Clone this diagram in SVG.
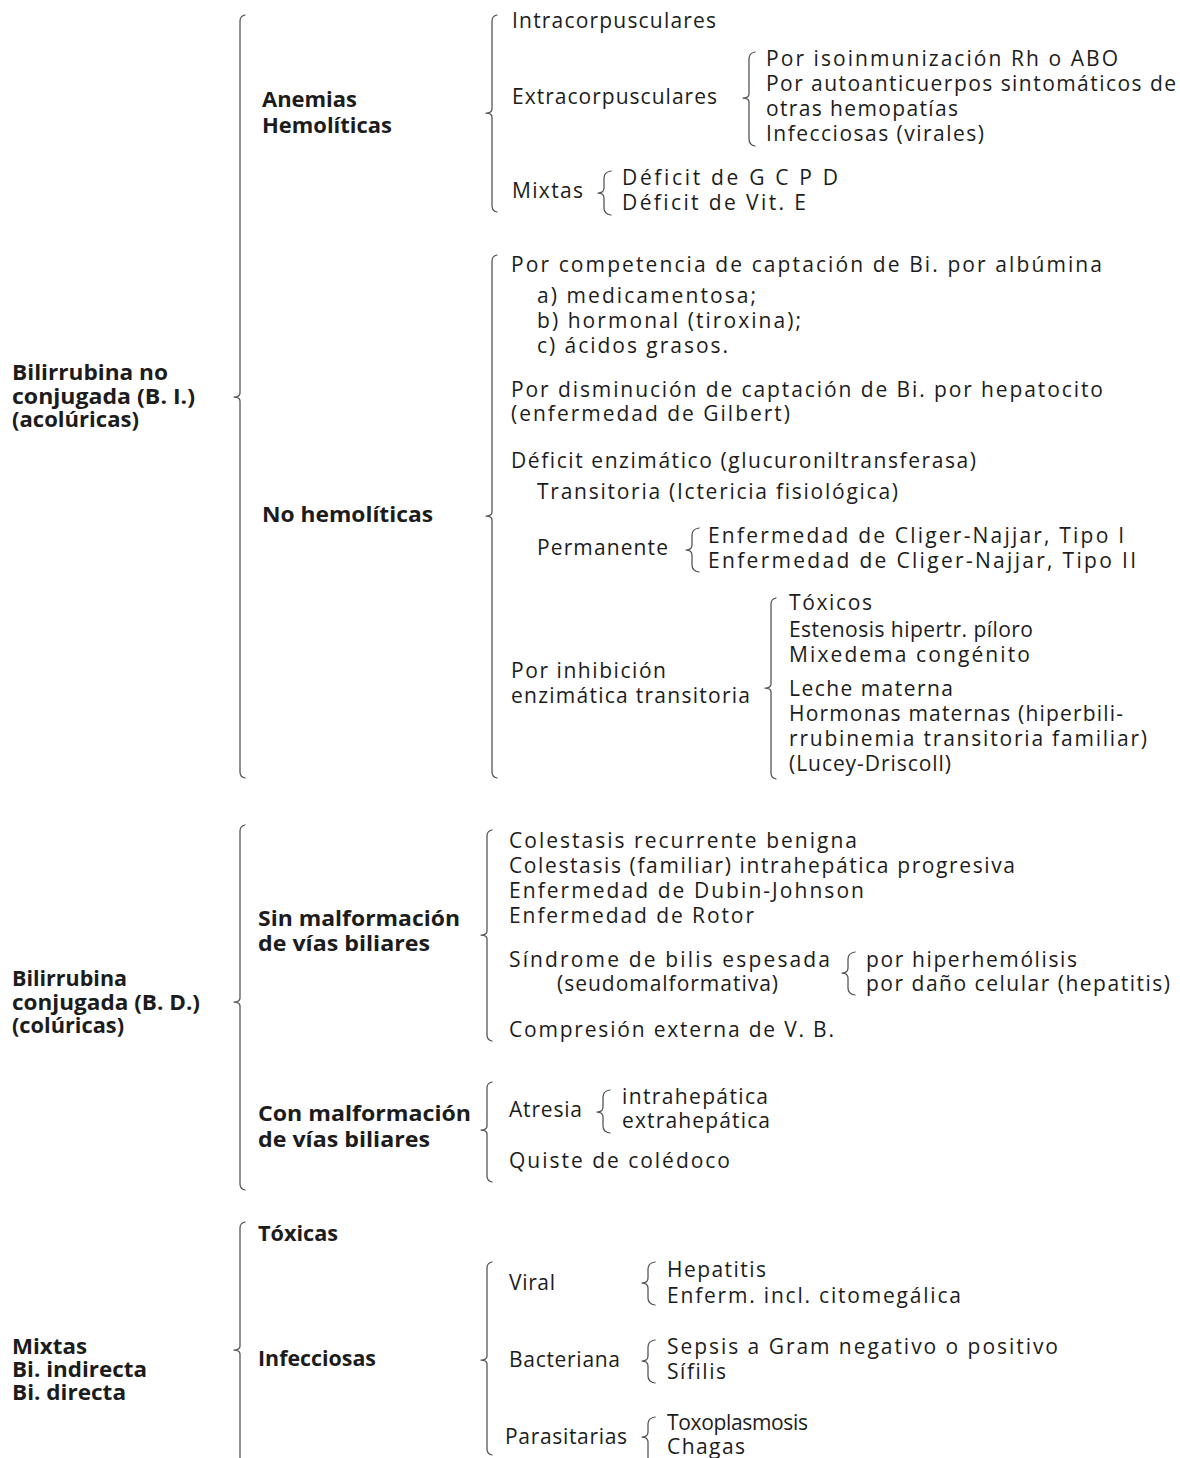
<svg xmlns="http://www.w3.org/2000/svg" width="1180" height="1458" viewBox="0 0 1180 1458">
<style>
.t{font-family:"Open Sans",Lato,"Noto Sans",sans-serif;font-size:21px;fill:#1c1c1c;font-variant-ligatures:none}
.b{font-weight:bold}
.br{fill:none;stroke:#505050;stroke-width:1.25;stroke-linecap:round;stroke-linejoin:round}
</style>
<rect width="1180" height="1458" fill="#ffffff"/>
<g id="connectors">
<path class="br" d="M245 15 Q240 16 240 21 V393 Q240 397 234 397 Q240 397 240 401 V772 Q240 777 245 778"/>
<path class="br" d="M497 15 Q492 16 492 21 V109 Q492 113 486 113 Q492 113 492 117 V206 Q492 211 497 212"/>
<path class="br" d="M755 52 Q749 53 749 59 V94 Q749 98 743 98 Q749 98 749 102 V139 Q749 145 755 146"/>
<path class="br" d="M611 171 Q604 172 604 178 V188 Q604 193 598 193 Q604 193 604 198 V208 Q604 214 611 215"/>
<path class="br" d="M497 255 Q492 256 492 261 V512 Q492 516 486 516 Q492 516 492 520 V772 Q492 777 497 778"/>
<path class="br" d="M699 528 Q692 529 692 535 V545 Q692 550 686 550 Q692 550 692 555 V565 Q692 571 699 572"/>
<path class="br" d="M776 598 Q771 599 771 604 V684 Q771 688 765 688 Q771 688 771 692 V773 Q771 778 776 779"/>
<path class="br" d="M245 825 Q240 826 240 831 V998 Q240 1002 234 1002 Q240 1002 240 1006 V1184 Q240 1189 245 1190"/>
<path class="br" d="M492 830 Q487 831 487 836 V931 Q487 935 481 935 Q487 935 487 939 V1035 Q487 1040 492 1041"/>
<path class="br" d="M855 952 Q848 953 848 959 V968 Q848 973 842 973 Q848 973 848 978 V988 Q848 994 855 995"/>
<path class="br" d="M492 1082 Q487 1083 487 1088 V1126 Q487 1130 481 1130 Q487 1130 487 1134 V1176 Q487 1181 492 1182"/>
<path class="br" d="M610 1090 Q603 1091 603 1097 V1107 Q603 1112 597 1112 Q603 1112 603 1117 V1126 Q603 1132 610 1133"/>
<path class="br" d="M245 1222 Q240 1223 240 1228 V1346 Q240 1350 234 1350 Q240 1350 240 1354 V1460"/>
<path class="br" d="M492 1262 Q487 1263 487 1268 V1356 Q487 1360 481 1360 Q487 1360 487 1364 V1449 Q487 1454 492 1455"/>
<path class="br" d="M655 1262 Q648 1263 648 1269 V1278 Q648 1283 642 1283 Q648 1283 648 1288 V1298 Q648 1304 655 1305"/>
<path class="br" d="M655 1340 Q648 1341 648 1347 V1356 Q648 1361 642 1361 Q648 1361 648 1366 V1376 Q648 1382 655 1383"/>
<path class="br" d="M655 1417 Q648 1418 648 1424 V1432 Q648 1437 642 1437 Q648 1437 648 1442 V1460"/>
</g>
<g id="n-bnc"><text class="t b">
<tspan x="12" y="380" textLength="156" lengthAdjust="spacingAndGlyphs">Bilirrubina no</tspan>
<tspan x="12" y="404" textLength="183" lengthAdjust="spacingAndGlyphs">conjugada (B. I.)</tspan>
<tspan x="12" y="427" textLength="127" lengthAdjust="spacingAndGlyphs">(acolúricas)</tspan>
</text></g>
<g id="n-anemias"><text class="t b">
<tspan x="262" y="107" textLength="95" lengthAdjust="spacingAndGlyphs">Anemias</tspan>
<tspan x="262" y="133" textLength="130" lengthAdjust="spacingAndGlyphs">Hemolíticas</tspan>
</text></g>
<g id="n-intra"><text class="t" x="512" y="28" textLength="204" lengthAdjust="spacing">Intracorpusculares</text></g>
<g id="n-extra"><text class="t" x="512" y="104" textLength="205" lengthAdjust="spacing">Extracorpusculares</text></g>
<g id="n-extra-items"><text class="t">
<tspan x="766" y="66" textLength="352" lengthAdjust="spacing">Por isoinmunización Rh o ABO</tspan>
<tspan x="766" y="91" textLength="410" lengthAdjust="spacing">Por autoanticuerpos sintomáticos de</tspan>
<tspan x="766" y="116" textLength="192" lengthAdjust="spacing">otras hemopatías</tspan>
<tspan x="766" y="141" textLength="218" lengthAdjust="spacing">Infecciosas (virales)</tspan>
</text></g>
<g id="n-mixtas1"><text class="t" x="512" y="198" textLength="71" lengthAdjust="spacing">Mixtas</text></g>
<g id="n-mixtas1-items"><text class="t">
<tspan x="622" y="185" textLength="216" lengthAdjust="spacing">Déficit de G C P D</tspan>
<tspan x="622" y="210" textLength="184" lengthAdjust="spacing">Déficit de Vit. E</tspan>
</text></g>
<g id="n-nohem"><text class="t b" x="262" y="522" textLength="171" lengthAdjust="spacingAndGlyphs">No hemolíticas</text></g>
<g id="n-competencia"><text class="t">
<tspan x="511" y="272" textLength="591" lengthAdjust="spacing">Por competencia de captación de Bi. por albúmina</tspan>
<tspan x="537" y="303" textLength="219" lengthAdjust="spacing">a) medicamentosa;</tspan>
<tspan x="537" y="328" textLength="264" lengthAdjust="spacing">b) hormonal (tiroxina);</tspan>
<tspan x="537" y="353" textLength="191" lengthAdjust="spacing">c) ácidos grasos.</tspan>
</text></g>
<g id="n-disminucion"><text class="t">
<tspan x="511" y="397" textLength="592" lengthAdjust="spacing">Por disminución de captación de Bi. por hepatocito</tspan>
<tspan x="511" y="421" textLength="279" lengthAdjust="spacing">(enfermedad de Gilbert)</tspan>
</text></g>
<g id="n-deficit"><text class="t">
<tspan x="511" y="468" textLength="465" lengthAdjust="spacing">Déficit enzimático (glucuroniltransferasa)</tspan>
<tspan x="537" y="499" textLength="361" lengthAdjust="spacing">Transitoria (Ictericia fisiológica)</tspan>
</text></g>
<g id="n-permanente"><text class="t" x="537" y="555" textLength="131" lengthAdjust="spacing">Permanente</text></g>
<g id="n-permanente-items"><text class="t">
<tspan x="708" y="543" textLength="416" lengthAdjust="spacing">Enfermedad de Cliger-Najjar, Tipo I</tspan>
<tspan x="708" y="568" textLength="428" lengthAdjust="spacing">Enfermedad de Cliger-Najjar, Tipo II</tspan>
</text></g>
<g id="n-inhibicion"><text class="t">
<tspan x="511" y="678" textLength="155" lengthAdjust="spacing">Por inhibición</tspan>
<tspan x="511" y="703" textLength="239" lengthAdjust="spacing">enzimática transitoria</tspan>
</text></g>
<g id="n-inhibicion-items"><text class="t">
<tspan x="789" y="610" textLength="83" lengthAdjust="spacing">Tóxicos</tspan>
<tspan x="789" y="637" textLength="244" lengthAdjust="spacing">Estenosis hipertr. píloro</tspan>
<tspan x="789" y="662" textLength="241" lengthAdjust="spacing">Mixedema congénito</tspan>
<tspan x="789" y="696" textLength="164" lengthAdjust="spacing">Leche materna</tspan>
<tspan x="789" y="721" textLength="334" lengthAdjust="spacing">Hormonas maternas (hiperbili-</tspan>
<tspan x="789" y="746" textLength="358" lengthAdjust="spacing">rrubinemia transitoria familiar)</tspan>
<tspan x="789" y="771" textLength="162" lengthAdjust="spacing">(Lucey-Driscoll)</tspan>
</text></g>
<g id="n-bc"><text class="t b">
<tspan x="12" y="986" textLength="115" lengthAdjust="spacingAndGlyphs">Bilirrubina</tspan>
<tspan x="12" y="1010" textLength="188" lengthAdjust="spacingAndGlyphs">conjugada (B. D.)</tspan>
<tspan x="12" y="1033" textLength="112" lengthAdjust="spacingAndGlyphs">(colúricas)</tspan>
</text></g>
<g id="n-sin"><text class="t b">
<tspan x="258" y="926" textLength="202" lengthAdjust="spacingAndGlyphs">Sin malformación</tspan>
<tspan x="258" y="951" textLength="172" lengthAdjust="spacingAndGlyphs">de vías biliares</tspan>
</text></g>
<g id="n-sin-items"><text class="t">
<tspan x="509" y="848" textLength="348" lengthAdjust="spacing">Colestasis recurrente benigna</tspan>
<tspan x="509" y="873" textLength="506" lengthAdjust="spacing">Colestasis (familiar) intrahepática progresiva</tspan>
<tspan x="509" y="898" textLength="355" lengthAdjust="spacing">Enfermedad de Dubin-Johnson</tspan>
<tspan x="509" y="923" textLength="245" lengthAdjust="spacing">Enfermedad de Rotor</tspan>
</text></g>
<g id="n-sindrome"><text class="t">
<tspan x="509" y="967" textLength="321" lengthAdjust="spacing">Síndrome de bilis espesada</tspan>
<tspan x="557" y="991" textLength="221" lengthAdjust="spacing">(seudomalformativa)</tspan>
</text></g>
<g id="n-sindrome-items"><text class="t">
<tspan x="866" y="967" textLength="211" lengthAdjust="spacing">por hiperhemólisis</tspan>
<tspan x="866" y="991" textLength="304" lengthAdjust="spacing">por daño celular (hepatitis)</tspan>
</text></g>
<g id="n-compresion"><text class="t" x="509" y="1037" textLength="325" lengthAdjust="spacing">Compresión externa de V. B.</text></g>
<g id="n-con"><text class="t b">
<tspan x="258" y="1121" textLength="213" lengthAdjust="spacingAndGlyphs">Con malformación</tspan>
<tspan x="258" y="1147" textLength="172" lengthAdjust="spacingAndGlyphs">de vías biliares</tspan>
</text></g>
<g id="n-atresia"><text class="t" x="509" y="1117" textLength="73" lengthAdjust="spacing">Atresia</text></g>
<g id="n-atresia-items"><text class="t">
<tspan x="622" y="1104" textLength="146" lengthAdjust="spacing">intrahepática</tspan>
<tspan x="622" y="1128" textLength="148" lengthAdjust="spacing">extrahepática</tspan>
</text></g>
<g id="n-quiste"><text class="t" x="509" y="1168" textLength="221" lengthAdjust="spacing">Quiste de colédoco</text></g>
<g id="n-mixtas"><text class="t b">
<tspan x="12" y="1354" textLength="75" lengthAdjust="spacingAndGlyphs">Mixtas</tspan>
<tspan x="12" y="1377" textLength="135" lengthAdjust="spacingAndGlyphs">Bi. indirecta</tspan>
<tspan x="12" y="1400" textLength="114" lengthAdjust="spacingAndGlyphs">Bi. directa</tspan>
</text></g>
<g id="n-toxicas"><text class="t b" x="258" y="1241" textLength="80" lengthAdjust="spacingAndGlyphs">Tóxicas</text></g>
<g id="n-infecciosas"><text class="t b" x="258" y="1366" textLength="118" lengthAdjust="spacingAndGlyphs">Infecciosas</text></g>
<g id="n-viral"><text class="t" x="509" y="1290" textLength="46" lengthAdjust="spacing">Viral</text></g>
<g id="n-viral-items"><text class="t">
<tspan x="667" y="1277" textLength="99" lengthAdjust="spacing">Hepatitis</tspan>
<tspan x="667" y="1303" textLength="294" lengthAdjust="spacing">Enferm. incl. citomegálica</tspan>
</text></g>
<g id="n-bacteriana"><text class="t" x="509" y="1367" textLength="111" lengthAdjust="spacing">Bacteriana</text></g>
<g id="n-bacteriana-items"><text class="t">
<tspan x="667" y="1354" textLength="391" lengthAdjust="spacing">Sepsis a Gram negativo o positivo</tspan>
<tspan x="667" y="1379" textLength="59" lengthAdjust="spacing">Sífilis</tspan>
</text></g>
<g id="n-parasitarias"><text class="t" x="505" y="1444" textLength="122" lengthAdjust="spacing">Parasitarias</text></g>
<g id="n-parasitarias-items"><text class="t">
<tspan x="667" y="1430" textLength="141" lengthAdjust="spacing">Toxoplasmosis</tspan>
<tspan x="667" y="1454" textLength="78" lengthAdjust="spacing">Chagas</tspan>
</text></g>
</svg>
